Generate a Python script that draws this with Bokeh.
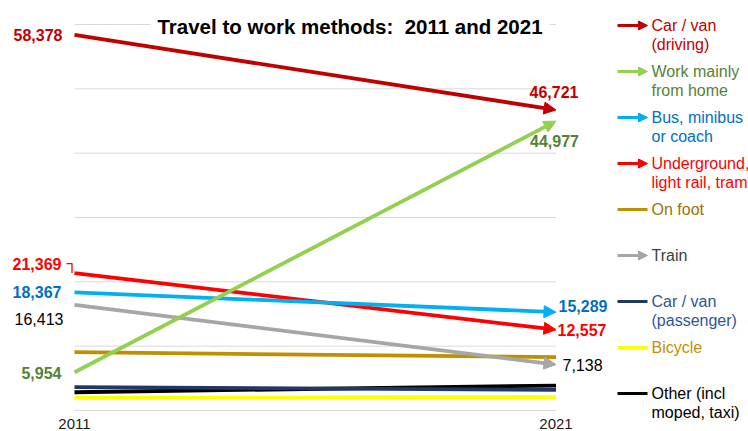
from bokeh.plotting import figure
from bokeh.models import Arrow, NormalHead, Label, Range1d
from bokeh.core.properties import value
from bokeh.embed import file_html
from bokeh.resources import INLINE

# ---------------- data ----------------
years = [2011, 2021]
series_names = ["Car / van\n(driving)", "Work mainly\nfrom home", "Bus, minibus\nor coach",
                "Underground,\nlight rail, tram", "On foot", "Train",
                "Car / van\n(passenger)", "Bicycle", "Other (incl\nmoped, taxi)"]
values_2011 = [58378, 5954, 18367, 21369, 9060, 16413, 3620, 1980, 2840]
values_2021 = [46721, 44977, 15289, 12557, 8290, 7138, 3220, 2070, 3880]
grid_ticks = [0, 10000, 20000, 30000, 40000, 50000, 60000]
year_labels = ["2011", "2021"]
title_text = "Travel to work methods:\u00a0 2011 and 2021"

# ---------------- styles ----------------
FONT = "Liberation Sans"
line_colors = ["#C00000", "#92D050", "#00B0F0", "#FF0000", "#BF8F00", "#A6A6A6",
               "#203864", "#FFFF00", "#000000"]
legend_text_colors = ["#C00000", "#548235", "#0070C0", "#FF0000", "#997300", "#404040",
                      "#2F5597", "#BF9000", "#000000"]
value_label_colors = ["#C00000", "#548235", "#0070C0", "#FF0000", None, "#000000",
                      None, None, None]
value_label_bold = [True, True, True, True, False, False, False, False, False]
has_arrow = [True, True, True, True, False, True, False, False, False]
# (align, dx, dy) offsets in px for the start/end value labels
start_label_pos = [("right", -12, 0), ("right", -13, 1), ("right", -13, 0), ("right", -13, -9.5),
                   None, ("right", -11, 14), None, None, None]
end_label_pos = [("center", -2, -18), ("center", -1.5, 20), ("left", 2.5, -6.6), ("left", 1.5, 0),
                 None, ("left", 6.5, 0), None, None, None]

# ---------------- geometry (reference pixels -> data) ----------------
W, H = 748, 431
PX_PER_YEAR = (555.5 - 74) / 10.0
X_START = 2011 - 74 / PX_PER_YEAR
X_END = X_START + W / PX_PER_YEAR
PX_PER_UNIT = (410 - 24) / 60000.0
Y_TOP = 60000 + 24 / PX_PER_UNIT
Y_BOTTOM = Y_TOP - H / PX_PER_UNIT


def xd(rx):
    return X_START + rx / PX_PER_YEAR


def yd(ry):
    return Y_TOP - ry / PX_PER_UNIT


p = figure(width=W, height=H, x_range=Range1d(X_START, X_END), y_range=Range1d(Y_BOTTOM, Y_TOP),
           x_axis_type=None, y_axis_type=None, output_backend="svg", toolbar_location=None,
           min_border=0, outline_line_color=None, border_fill_color="white",
           background_fill_color="white")

# gridlines
p.segment(x0=[years[0]] * len(grid_ticks), x1=[years[1]] * len(grid_ticks), y0=grid_ticks,
          y1=grid_ticks, line_color="#D9D9D9", line_width=1)

# year labels
p.text(x=years, y=[yd(423)] * 2, text=year_labels, text_font=value(FONT), text_font_size="15px",
       text_color="#1a1a1a", text_align="center", text_baseline="middle")

# series lines (plain ones drawn first)
order = [7, 8, 6, 4, 5, 3, 2, 1, 0]
for i in order:
    c = line_colors[i]
    if has_arrow[i]:
        p.add_layout(Arrow(end=NormalHead(size=12, fill_color=c, line_color=c, line_width=1),
                           x_start=years[0], y_start=values_2011[i], x_end=years[1],
                           y_end=values_2021[i], line_color=c, line_width=3.8))
    else:
        p.line(x=years, y=[values_2011[i], values_2021[i]], line_color=c, line_width=3.8)

# value labels
for i in range(len(series_names)):
    for pos, xv, yv in ((start_label_pos[i], years[0], values_2011[i]),
                        (end_label_pos[i], years[1], values_2021[i])):
        if pos is None:
            continue
        align, dx, dy = pos
        p.text(x=[xv], y=[yv], text=[f"{yv:,}"], x_offset=dx, y_offset=dy,
               text_font=value(FONT), text_font_size="16px",
               text_font_style="bold" if value_label_bold[i] else "normal",
               text_color=value_label_colors[i], text_align=align, text_baseline="middle")

# leader line for the underground 2011 label
ug = 3
ug_px_y = (Y_TOP - values_2011[ug]) * PX_PER_UNIT
p.line(x=[xd(66), xd(71.5), xd(71.5)], y=[yd(ug_px_y - 9.5), yd(ug_px_y - 9.5), values_2011[ug]],
       line_color="#FF0000", line_width=1.3)

# legend
for k, name in enumerate(series_names):
    ry = 25 + 46 * k
    c = line_colors[k]
    if has_arrow[k]:
        p.add_layout(Arrow(end=NormalHead(size=9, fill_color=c, line_color=c, line_width=1),
                           x_start=xd(617), y_start=yd(ry), x_end=xd(647), y_end=yd(ry),
                           line_color=c, line_width=3))
    else:
        p.line(x=[xd(617), xd(647)], y=[yd(ry), yd(ry)], line_color=c, line_width=3)
    for j, line_txt in enumerate(name.split("\n")):
        p.text(x=[xd(651)], y=[yd(ry + 19 * j)], text=[line_txt], text_font=value(FONT),
               text_font_size="16px", text_color=legend_text_colors[k], text_align="left",
               text_baseline="middle")

# title
p.add_layout(Label(x=xd(349.5), y=yd(26), text=title_text, text_font=FONT, text_font_size="20.5px",
                   text_font_style="bold", text_color="#000000", text_align="center",
                   text_baseline="alphabetic", background_fill_color="white", padding=7))

open("out.html", "w").write(file_html(p, INLINE))
